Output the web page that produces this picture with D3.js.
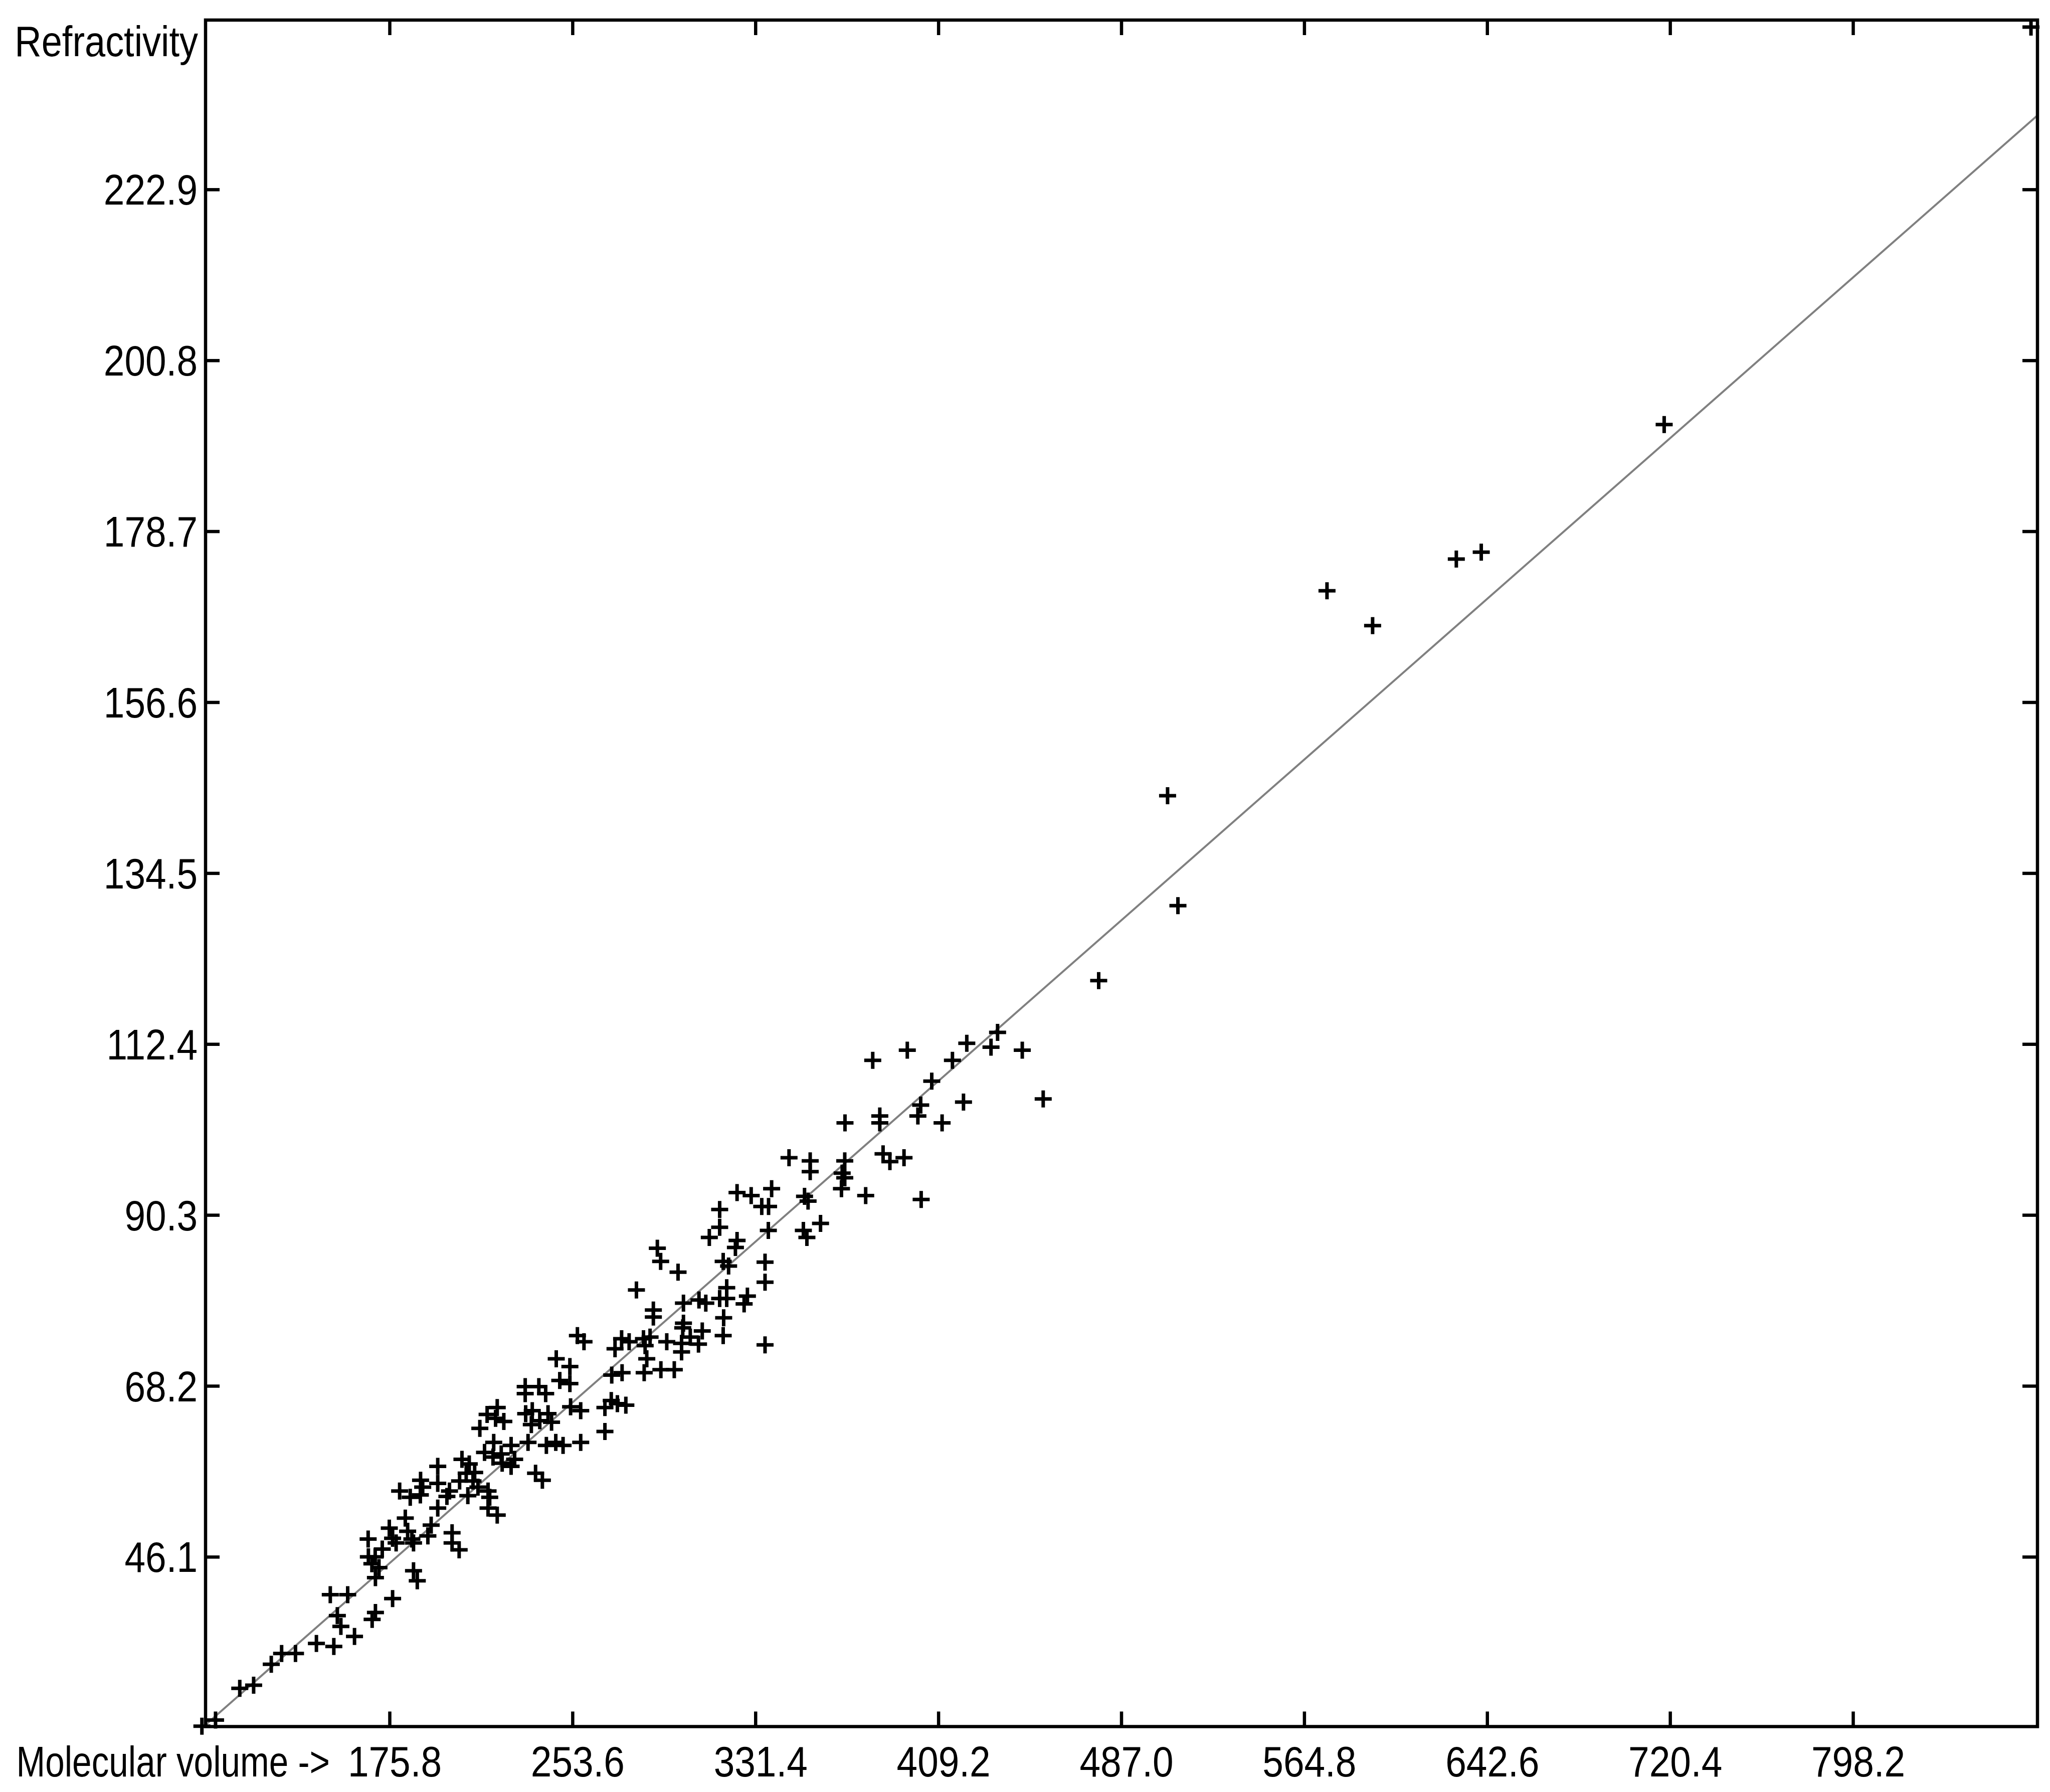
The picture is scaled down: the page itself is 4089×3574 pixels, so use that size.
<!DOCTYPE html>
<html>
<head>
<meta charset="utf-8">
<script src="https://cdn.jsdelivr.net/npm/d3@7"></script>
<style>
  html, body { margin: 0; padding: 0; background: #fff; }
  svg { display: block; }
</style>
</head>
<body>
<script>
// ---------------- data ----------------
const xTitle = "Molecular volume ->";
const yTitle = "Refractivity";

const xTicks = [175.8, 253.6, 331.4, 409.2, 487.0, 564.8, 642.6, 720.4, 798.2];
const yTicks = [46.1, 68.2, 90.3, 112.4, 134.5, 156.6, 178.7, 200.8, 222.9];

const xDomain = [97.55, 876.66];
const yDomain = [24.15, 244.8];

// regression line end points
const fitX = [96.9, 876.4];
const fitY = [24.2, 232.4];

// molecular volume (x) of each compound
const volume = [
  96.0, 101.8, 112.1, 118.0, 125.5, 129.9, 135.8, 144.7, 152.1, 160.9, 150.6, 158.0, 153.6, 155.1, 169.8, 168.4, 177.1, 187.6,
  221.6, 217.3, 220.9, 224.4, 214.2,
  220.1, 216.2, 219.8, 223.3, 227.5, 229.0, 227.5, 223.7,
  237.9, 240.8,
  196.3, 206.6, 209.7, 208.4, 212.0, 211.3, 205.6, 201.3, 200.2, 209.1, 213.4, 217.7, 218.4, 217.7, 221.6, 196.3, 196.3, 189.0, 189.9, 180.1, 184.6, 188.9,
  166.7, 172.7, 175.7, 177.1, 182.5, 183.5, 185.3, 178.6, 186.0, 192.1, 193.5, 202.4, 202.4, 205.4, 186.0, 166.8, 169.7, 168.3, 171.3, 169.8,
  233.7, 236.5, 239.7, 243.2, 244.7, 236.1, 233.5, 233.5, 239.3, 242.2, 248.2, 252.5, 252.5, 246.7, 255.7, 258.5,
  252.8, 257.1, 270.1, 267.4, 276.3, 272.7, 267.4, 257.1, 234.7, 242.5, 246.5, 249.6,
  270.3, 274.7, 271.7, 274.5, 277.7, 283.8, 286.6, 284.5, 285.2, 284.1, 291.2, 296.9, 293.7, 300.0, 307.2, 303.7, 300.0, 317.7,
  280.8, 289.7, 291.1, 298.5, 316.2, 316.2, 311.8, 323.6, 329.6, 323.6, 322.9, 317.7, 320.0, 319.2,
  300.8, 307.4, 310.3, 316.2, 319.2, 317.9, 328.0, 326.6, 335.5, 335.5, 335.5, 288.0, 288.0, 300.8, 300.5, 308.8,
  336.9, 351.8, 353.3, 359.1, 338.3, 334.1, 337.0, 352.3, 353.8, 369.4, 368.3, 369.4, 368.0, 378.3, 401.9,
  385.7, 388.6, 394.6, 345.7, 354.7, 354.7, 369.5,
  381.3, 396.0, 415.2, 421.3, 434.4, 431.6, 444.9, 477.4, 406.4, 401.7, 400.5, 419.9, 410.8, 384.3, 384.3, 453.8,
  506.7, 511.1, 574.5, 593.9, 629.5, 640.1, 717.9, 873.9
];

// refractivity (y) of each compound
const refractivity = [
  24.2, 25.0, 29.1, 29.5, 32.2, 33.6, 33.6, 34.9, 34.5, 35.8, 41.2, 41.2, 38.5, 37.1, 38.9, 38.0, 40.7, 43.0,
  65.4, 64.5, 64.0, 63.6, 62.7,
  60.9, 59.6, 59.0, 59.4, 60.5, 58.7, 57.8, 58.2,
  56.9, 56.0,
  57.8, 58.7, 58.1, 56.9, 57.0, 55.9, 55.9, 54.6, 53.9, 54.0, 55.1, 54.6, 53.8, 52.4, 51.5, 55.6, 52.4, 56.0, 55.1, 54.6, 53.8, 54.1,
  48.4, 47.1, 49.8, 48.5, 51.1, 49.4, 48.4, 47.9, 47.9, 48.8, 50.2, 49.2, 47.9, 47.0, 44.3, 46.1, 46.1, 45.2, 44.7, 43.4,
  64.6, 65.0, 63.7, 64.6, 63.5, 63.2, 68.1, 67.2, 68.1, 67.2, 68.9, 68.5, 70.7, 71.7, 74.7, 73.9,
  65.5, 65.0, 66.3, 65.4, 65.7, 65.9, 62.3, 60.9, 60.9, 60.5, 60.9, 60.5,
  69.6, 69.9, 73.0, 74.3, 73.9, 74.3, 74.5, 73.4, 71.7, 69.9, 70.3, 70.3, 73.9, 72.6, 73.6, 74.5, 73.7, 74.7,
  80.6, 86.0, 84.3, 82.9, 91.0, 88.7, 87.4, 93.2, 92.8, 87.0, 86.1, 84.3, 83.7, 80.9,
  78.9, 79.3, 78.9, 79.5, 79.5, 77.0, 79.8, 78.8, 84.2, 81.6, 73.5, 78.0, 77.1, 76.3, 75.7, 75.3,
  88.3, 88.3, 87.4, 89.2, 93.7, 91.4, 91.4, 92.7, 92.1, 97.3, 95.7, 95.1, 93.7, 92.8, 92.3,
  98.2, 97.2, 97.7, 97.7, 97.3, 95.9, 102.2,
  110.3, 111.6, 110.3, 112.5, 113.9, 112.0, 111.6, 120.6, 107.6, 104.5, 103.1, 104.9, 102.2, 103.1, 102.2, 105.3,
  144.5, 130.3, 171.0, 166.5, 175.1, 176.0, 192.5, 243.9
];

// ---------------- drawing ----------------
const W = 4089, H = 3574;
const FONT = "'Liberation Sans', Arial, sans-serif";
const FS = 85;
const SQ = 0.88;      // horizontal squeeze of the narrow screen font

const svg = d3.select("body").append("svg")
  .attr("width", W).attr("height", H)
  .attr("viewBox", `0 0 ${W} ${H}`);

svg.append("rect").attr("width", W).attr("height", H).attr("fill", "#fff");

const x = d3.scaleLinear().domain(xDomain).range([410, 4064]);
const y = d3.scaleLinear().domain(yDomain).range([3443.5, 40]);

const points = volume.map((v, i) => ({ x: v, y: refractivity[i] }));

// regression line
svg.append("path")
  .datum(fitX.map((v, i) => [v, fitY[i]]))
  .attr("fill", "none")
  .attr("stroke", "#808080")
  .attr("stroke-width", 4)
  .attr("d", d3.line().x(d => x(d[0])).y(d => y(d[1])));

// cross markers
svg.append("g")
  .selectAll("path")
  .data(points)
  .join("path")
  .attr("transform", d => `translate(${x(d.x)},${y(d.y)})`)
  .attr("d", "M-17,0H17M0,-17V17")
  .attr("stroke", "#000")
  .attr("stroke-width", 7)
  .attr("fill", "none");

// axes (ticks pointing inwards)
const fmt = d3.format(".1f");
function styleAxis(g) {
  g.select(".domain").remove();
  g.selectAll(".tick line").attr("stroke", "#000").attr("stroke-width", 6.5);
  g.attr("font-family", FONT).attr("font-size", FS);
}

const gx = svg.append("g").attr("transform", "translate(0,3443.5)")
  .call(d3.axisBottom(x).tickValues(xTicks).tickFormat(fmt).tickSize(-30).tickSizeOuter(0))
  .call(styleAxis);
gx.selectAll(".tick text")
  .attr("x", 0).attr("y", 0).attr("dy", 0)
  .attr("transform", `translate(10,99.5) scale(${SQ},1)`)
  .attr("fill", "#000");

const gy = svg.append("g").attr("transform", "translate(410,0)")
  .call(d3.axisLeft(y).tickValues(yTicks).tickFormat(fmt).tickSize(-28).tickSizeOuter(0))
  .call(styleAxis);
gy.selectAll(".tick text")
  .attr("x", 0).attr("y", 0).attr("dy", 0)
  .attr("transform", `translate(-16,30) scale(${SQ},1)`)
  .attr("fill", "#000");

svg.append("g").attr("transform", "translate(0,40)")
  .call(d3.axisTop(x).tickValues(xTicks).tickFormat("").tickSize(-30).tickSizeOuter(0))
  .call(styleAxis);

svg.append("g").attr("transform", "translate(4064,0)")
  .call(d3.axisRight(y).tickValues(yTicks).tickFormat("").tickSize(-30).tickSizeOuter(0))
  .call(styleAxis);

// frame
svg.append("rect")
  .attr("x", 410).attr("y", 40)
  .attr("width", 4064 - 410).attr("height", 3443.5 - 40)
  .attr("fill", "none").attr("stroke", "#000").attr("stroke-width", 6.5);

// titles
svg.append("text")
  .attr("transform", "translate(395,112) scale(0.87,1)")
  .attr("text-anchor", "end")
  .attr("font-family", FONT).attr("font-size", FS).attr("fill", "#000")
  .text(yTitle);

svg.append("text")
  .attr("transform", "translate(658,3543) scale(0.815,1)")
  .attr("text-anchor", "end")
  .attr("font-family", FONT).attr("font-size", FS).attr("fill", "#000")
  .text(xTitle);
</script>
</body>
</html>
